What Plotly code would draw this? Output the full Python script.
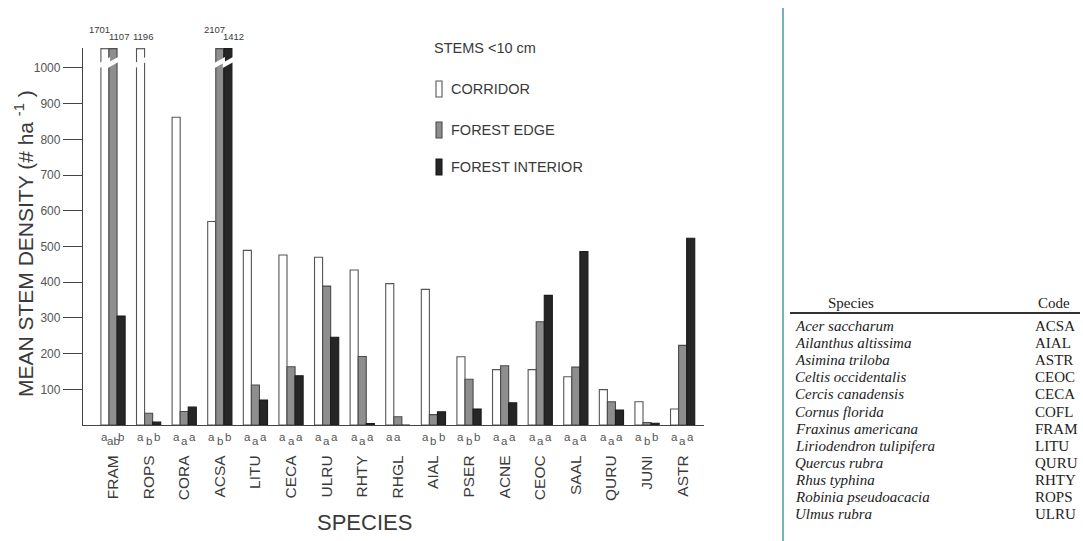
import plotly.graph_objects as go

# Species codes along the x axis
species = ["FRAM", "ROPS", "CORA", "ACSA", "LITU", "CECA", "ULRU", "RHTY", "RHGL",
           "AIAL", "PSER", "ACNE", "CEOC", "SAAL", "QURU", "JUNI", "ASTR"]

# Mean stem density (# / ha), stems < 10 cm
corridor = [1701, 1196, 862, 570, 489, 476, 470, 434, 396, 380, 191, 155, 155, 135, 99, 65, 45]
forest_edge = [1107, 33, 38, 2107, 112, 163, 389, 192, 23, 29, 128, 166, 289, 162, 65, 7, 223]
forest_interior = [305, 8, 50, 1412, 70, 138, 246, 4, 0, 37, 45, 62, 363, 486, 42, 5, 523]

# Significance letters (corridor / edge / interior)
sig_letters = ["a ab b", "a b b", "a a a", "a b b", "a a a", "a a a", "a a a", "a a a", "a a",
               "a b b", "a b b", "a a a", "a a a", "a a a", "a a a", "a b b", "a a a"]

series_names = ["CORRIDOR", "FOREST EDGE", "FOREST INTERIOR"]

# Species / code key
key_species = ["Acer saccharum", "Ailanthus altissima", "Asimina triloba", "Celtis occidentalis",
               "Cercis canadensis", "Cornus florida", "Fraxinus americana", "Liriodendron tulipifera",
               "Quercus rubra", "Rhus typhina", "Robinia pseudoacacia", "Ulmus rubra"]
key_codes = ["ACSA", "AIAL", "ASTR", "CEOC", "CECA", "COFL", "FRAM", "LITU",
             "QURU", "RHTY", "ROPS", "ULRU"]

# ---- geometry ----
W, H = 1083, 541
PL, PR, PT, PB = 83, 704, 48, 425
YMAX = 1056
BARGAP = 0.32
BW = (1 - BARGAP) / 3

SANS = "Liberation Sans, Arial, sans-serif"
SERIF = "Liberation Serif, Times New Roman, serif"
INK = "#3a3a3a"


def px_x(px):
    return (px - PL) / (PR - PL)


def px_y(py):
    return (PB - py) / (PB - PT)


xs = list(range(len(species)))
styles = [
    dict(color="white", line=dict(color="#555555", width=1.1)),
    dict(color="#8e8e8e", line=dict(color="#4a4a4a", width=1.1)),
    dict(color="#262626", line=dict(color="#1a1a1a", width=1.1)),
]
values = [corridor, forest_edge, forest_interior]

fig = go.Figure()
for name, vals, st in zip(series_names, values, styles):
    fig.add_trace(go.Bar(x=xs, y=vals, name=name, marker=st, showlegend=False))

shapes = []
annotations = []

# Broken bars: top cap, diagonal break and the true value above
for k, vals in enumerate(values):
    off = (k - 1) * BW
    for i, v in enumerate(vals):
        if v <= YMAX:
            continue
        xc = i + off
        x0, x1 = xc - BW / 2, xc + BW / 2
        shapes.append(dict(type="line", xref="x", yref="y", x0=x0, x1=x1, y0=YMAX - 2, y1=YMAX - 2,
                           line=dict(color=styles[k]["line"]["color"], width=1.2)))
        shapes.append(dict(type="path", xref="x", yref="y",
                           path=f"M {x0 - 0.03},1000 L {x1 + 0.03},1016 L {x1 + 0.03},1031 L {x0 - 0.03},1015 Z",
                           fillcolor="white", line=dict(width=0)))
        # left label of a broken pair sits higher
        right_broken = k < 2 and values[k + 1][i] > YMAX
        left_broken = k > 0 and values[k - 1][i] > YMAX
        if right_broken:
            xs_shift, ys = -5, 11
        elif left_broken:
            xs_shift, ys = 6, 4
        else:
            xs_shift, ys = 2, 4
        annotations.append(dict(x=xc, y=1, xref="x", yref="paper", text=str(v), showarrow=False,
                                xshift=xs_shift, yshift=ys, yanchor="bottom",
                                font=dict(family=SANS, size=9.5, color=INK)))

# Significance letters under each group
for i, s in enumerate(sig_letters):
    parts = s.split()
    for k, letter in enumerate(parts):
        low = (len(parts) == 3 and k == 1)
        annotations.append(dict(x=i + (k - 1) * BW, y=px_y(437 if not low else 441), xref="x", yref="paper",
                                text=letter, showarrow=False, yanchor="middle",
                                font=dict(family=SANS, size=11.5, color="#555555")))

# Legend block
annotations.append(dict(x=px_x(432), y=px_y(48), xref="paper", yref="paper", text="STEMS &lt;10 cm",
                        showarrow=False, xanchor="left", yanchor="middle",
                        font=dict(family=SANS, size=14.5, color=INK)))
for k, (name, yc) in enumerate(zip(series_names, [89, 130, 167])):
    shapes.append(dict(type="rect", xref="paper", yref="paper",
                       x0=px_x(436), x1=px_x(442), y0=px_y(yc + 8), y1=px_y(yc - 8),
                       fillcolor=styles[k]["color"], line=dict(color=styles[k]["line"]["color"], width=1.1)))
    annotations.append(dict(x=px_x(449), y=px_y(yc), xref="paper", yref="paper", text=name,
                            showarrow=False, xanchor="left", yanchor="middle",
                            font=dict(family=SANS, size=14.5, color=INK)))

# Axis titles
annotations.append(dict(x=px_x(24), y=px_y(244), xref="paper", yref="paper",
                        text="MEAN STEM DENSITY (# ha <sup>-1</sup> )", textangle=-90, showarrow=False,
                        xanchor="center", yanchor="middle", font=dict(family=SANS, size=21, color=INK)))
annotations.append(dict(x=px_x(364), y=px_y(522), xref="paper", yref="paper", text="SPECIES",
                        showarrow=False, xanchor="center", yanchor="middle",
                        font=dict(family=SANS, size=22, color=INK)))

# Separator line and species key
shapes.append(dict(type="line", xref="paper", yref="paper", x0=px_x(783), x1=px_x(783),
                   y0=px_y(8), y1=px_y(541), line=dict(color="#1f7f80", width=1.2)))
shapes.append(dict(type="line", xref="paper", yref="paper", x0=px_x(790), x1=px_x(1080),
                   y0=px_y(313), y1=px_y(313), line=dict(color="#333333", width=1.8)))
annotations.append(dict(x=px_x(851), y=px_y(303), xref="paper", yref="paper", text="Species",
                        showarrow=False, xanchor="center", yanchor="middle",
                        font=dict(family=SERIF, size=15, color="#222222")))
annotations.append(dict(x=px_x(1054), y=px_y(303), xref="paper", yref="paper", text="Code",
                        showarrow=False, xanchor="center", yanchor="middle",
                        font=dict(family=SERIF, size=15, color="#222222")))
for r, (sp, code) in enumerate(zip(key_species, key_codes)):
    yy = 326 + r * 17.1
    annotations.append(dict(x=px_x(793), y=px_y(yy), xref="paper", yref="paper", text=f"<i>{sp}</i>",
                            showarrow=False, xanchor="left", yanchor="middle",
                            font=dict(family=SERIF, size=15, color="#222222")))
    annotations.append(dict(x=px_x(1033), y=px_y(yy), xref="paper", yref="paper", text=code,
                            showarrow=False, xanchor="left", yanchor="middle",
                            font=dict(family=SERIF, size=15, color="#222222")))

fig.update_layout(
    width=W, height=H, autosize=False,
    margin=dict(l=PL, r=W - PR, t=PT, b=H - PB, pad=0),
    paper_bgcolor="white", plot_bgcolor="white",
    barmode="group", bargap=BARGAP, bargroupgap=0,
    shapes=shapes, annotations=annotations,
    xaxis=dict(range=[-0.843, 16.6], tickmode="array", tickvals=xs, ticktext=species,
               tickangle=-90, showline=True, linecolor="#444444", linewidth=1.3,
               showgrid=False, zeroline=False, ticks="", ticklabelstandoff=23,
               tickfont=dict(family=SANS, size=15.5, color=INK)),
    yaxis=dict(range=[0, YMAX], tickmode="array", tickvals=list(range(100, 1001, 100)),
               showline=True, linecolor="#444444", linewidth=1.3, showgrid=False, zeroline=False,
               ticks="outside", ticklen=19, tickwidth=1.1, tickcolor="#444444",
               tickfont=dict(family=SANS, size=12, color="#555555")),
)

fig.write_html("out.html")
